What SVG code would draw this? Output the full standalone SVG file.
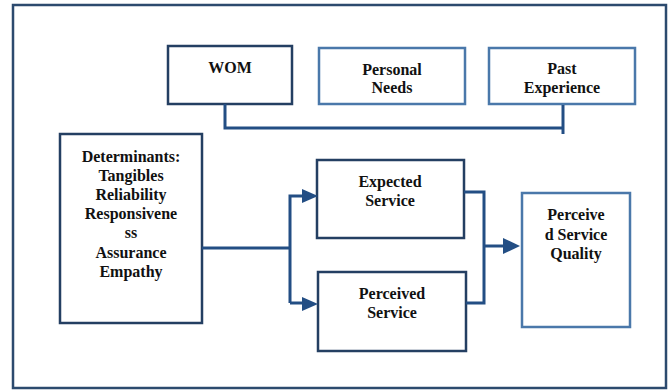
<svg xmlns="http://www.w3.org/2000/svg" width="672" height="392" viewBox="0 0 672 392">
<style>
.dark{fill:#fff;stroke:#243f62;stroke-width:2.5}
.light{fill:#fff;stroke:#4a78aa;stroke-width:2.5}
.t{font-family:'Liberation Serif','Times New Roman','DejaVu Serif',serif;font-weight:bold;font-size:16px;fill:#111;text-anchor:middle}
.conn{fill:none;stroke:#234e84;stroke-width:3}
.head{fill:#234e84}
</style>
<rect x="13" y="5" width="653" height="383" fill="#fff" stroke="#2c4a6e" stroke-width="2.5"/>
<g id="wom"><rect class="dark" x="168" y="46" width="124" height="58"/><text class="t" x="230" y="73">WOM</text></g>
<g id="personal-needs"><rect class="light" x="319" y="48" width="146" height="56"/><text class="t" x="392" y="75">Personal</text><text class="t" x="392" y="93">Needs</text></g>
<g id="past-experience"><rect class="light" x="489" y="48" width="146" height="56"/><text class="t" x="562" y="74">Past</text><text class="t" x="562" y="93">Experience</text></g>
<g id="determinants"><rect class="dark" x="60" y="134" width="142" height="189"/>
<text class="t" x="131" y="162">Determinants:</text><text class="t" x="131" y="181">Tangibles</text><text class="t" x="131" y="200">Reliability</text><text class="t" x="131" y="219">Responsivene</text><text class="t" x="131" y="238">ss</text><text class="t" x="131" y="258">Assurance</text><text class="t" x="131" y="277">Empathy</text></g>
<g id="expected-service"><rect class="dark" x="317" y="160" width="147" height="78"/><text class="t" x="390" y="187">Expected</text><text class="t" x="390" y="206">Service</text></g>
<g id="perceived-service"><rect class="dark" x="318" y="272" width="148" height="79"/><text class="t" x="392" y="299">Perceived</text><text class="t" x="392" y="318">Service</text></g>
<g id="perceived-service-quality"><rect class="light" x="522" y="193" width="108" height="134"/><text class="t" x="576" y="220">Perceive</text><text class="t" x="576" y="240">d Service</text><text class="t" x="576" y="259">Quality</text></g>
<g id="connectors">
<path class="conn" d="M225,104 V128 H563"/>
<path class="conn" d="M563,105 V134" stroke-width="2"/>
<path class="conn" d="M202,248 H290"/>
<path class="conn" d="M290,303 V196 H304"/>
<polygon class="head" points="302,189 318,196 302,203"/>
<path class="conn" d="M290,303 H304"/>
<polygon class="head" points="302,297 318,304 302,311"/>
<path class="conn" d="M464,192 H484 V303 H466"/>
<path class="conn" d="M484,246 H505"/>
<polygon class="head" points="503,238 520,246 503,254"/>
</g>
</svg>
